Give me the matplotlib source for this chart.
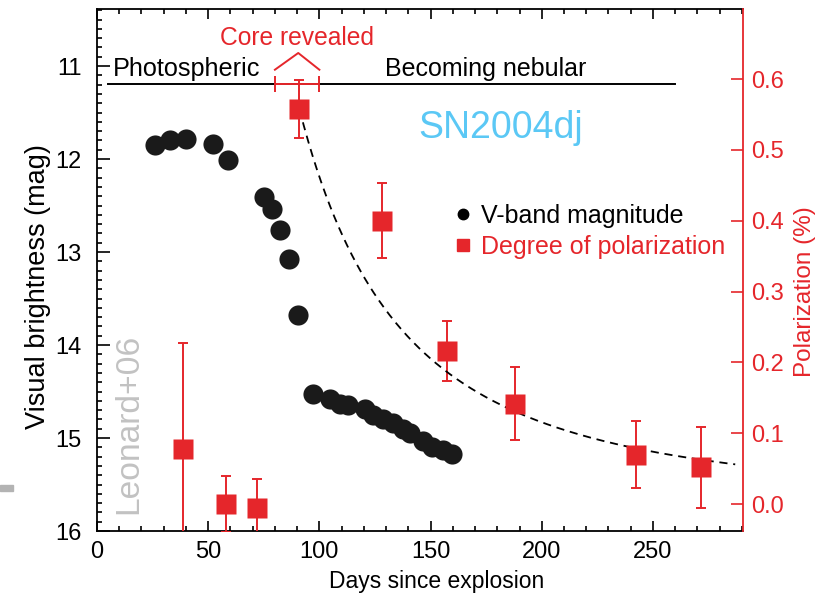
import numpy as np
import matplotlib
matplotlib.use("Agg")
import matplotlib.pyplot as plt
from matplotlib.lines import Line2D
from matplotlib.patches import Rectangle
from matplotlib.ticker import MultipleLocator

plt.rcParams['font.family'] = ['Liberation Sans', 'DejaVu Sans']

# ---------------- data ----------------
v_days = [26, 33, 40, 52, 59, 75.2, 78.8, 82.3, 86.3, 90.4, 97.0, 104.8, 109.3,
          113.0, 120.5, 124.3, 128.8, 133.3, 137.8, 140.7, 146.7, 150.5, 155.7, 159.7]
v_mag = [11.85, 11.80, 11.79, 11.84, 12.01, 12.41, 12.54, 12.76, 13.07, 13.68,
         14.53, 14.58, 14.63, 14.65, 14.69, 14.75, 14.80, 14.84, 14.90, 14.95,
         15.03, 15.10, 15.13, 15.17]

pol_days = [38.8, 57.9, 71.8, 91.0, 128.1, 157.2, 188.0, 242.4, 271.6]
pol_val = [0.078, 0.000, -0.006, 0.558, 0.400, 0.216, 0.142, 0.070, 0.052]
pol_err = [0.150, 0.040, 0.041, 0.041, 0.053, 0.042, 0.052, 0.047, 0.057]

# t^-2 model curve (dashed)
model_ref_day = 91.0
model_ref_pol = 0.558
model_end_day = 287.0

# phase bar and "core revealed" marker
phase_line_days = [5, 260]
phase_line_mag = 11.19
core_day = 90.0
core_halfwidth = 10.0
bracket_days = [80, 90.5, 100]
bracket_mag = [11.04, 10.86, 11.04]

x_ticks = [0, 50, 100, 150, 200, 250]
mag_ticks = [11, 12, 13, 14, 15, 16]
pol_ticks = [0.0, 0.1, 0.2, 0.3, 0.4, 0.5, 0.6]

RED = '#e5262b'
BLUE = '#5bc8f5'
GRAY = '#c2c2c2'

# ---------------- figure ----------------
fig = plt.figure(figsize=(8.29, 5.97), dpi=100)
ax = fig.add_axes([0.11701, 0.11055, 0.77925, 0.87437])
ax2 = ax.twinx()

ax.set_xlim(0, 290.5)
ax.set_ylim(16, 10.387)
ax2.set_ylim(-0.038, 0.699)

# V-band points
ax.plot(v_days, v_mag, 'o', color='#1a1a1a', ms=14.5, mec='none', zorder=3)

# phase line and core-revealed marker
ax.plot(phase_line_days, [phase_line_mag] * 2, color='black', lw=1.4, zorder=2)
ax.errorbar([core_day], [phase_line_mag], xerr=[core_halfwidth], fmt='none',
            ecolor=RED, elinewidth=1.4, capsize=6, capthick=1.4, zorder=3)
ax.plot(bracket_days, bracket_mag, color=RED, lw=1.4, zorder=3)

# Polarization points
ax2.errorbar(pol_days, pol_val, yerr=pol_err, fmt='none', ecolor=RED,
             elinewidth=1.4, capsize=3.3, capthick=1.4, zorder=2)
ax2.plot(pol_days, pol_val, 's', color=RED, ms=14.5, mec='none', zorder=4)

# model curve
t = np.linspace(model_ref_day, model_end_day, 300)
ax2.plot(t, model_ref_pol * (model_ref_day / t) ** 2, color='black', lw=1.3,
         ls=(0, (4.5, 3.2)), zorder=3)

# texts
ax.text(7.3, 11.11, 'Photospheric', fontsize=18.2, ha='left', va='baseline')
ax.text(175, 11.11, 'Becoming nebular', fontsize=18, ha='center', va='baseline')
ax.text(89.8, 10.774, 'Core revealed', fontsize=17.7, ha='center', va='baseline', color=RED)
ax.text(181.4, 11.777, 'SN2004dj', fontsize=27, ha='center', va='baseline', color=BLUE)
ax.text(14.3, 15.82, 'Leonard+06', fontsize=24.2, rotation=90, ha='center',
        va='bottom', color=GRAY)

# legend
handles = [Line2D([], [], marker='o', color='black', ls='none', ms=7.5),
           Line2D([], [], marker='s', color=RED, ls='none', ms=8.5)]
leg = ax.legend(handles, ['V-band magnitude', 'Degree of polarization'],
                loc='upper left', bbox_to_anchor=(0.5526, 0.627), frameon=False,
                borderpad=0, borderaxespad=0, handlelength=0.75, handletextpad=0.35,
                labelspacing=0.3, fontsize=18, labelcolor=['black', RED])

# axes styling
for s in ['top', 'bottom', 'left']:
    ax.spines[s].set_linewidth(1.3)
ax.spines['right'].set_visible(False)
for s in ['top', 'bottom', 'left']:
    ax2.spines[s].set_visible(False)
ax2.spines['right'].set_color(RED)
ax2.spines['right'].set_linewidth(1.3)

ax.set_xticks(x_ticks)
ax.xaxis.set_minor_locator(MultipleLocator(10))
ax.set_yticks(mag_ticks)
ax.yaxis.set_minor_locator(MultipleLocator(0.1))
ax2.set_yticks(pol_ticks)
ax2.set_yticklabels([f'{v:.1f}' for v in pol_ticks])

ax.tick_params(axis='x', which='both', direction='in', top=True, bottom=True,
               width=1.2, labelsize=17, pad=7.5)
ax.tick_params(axis='x', which='major', length=7)
ax.tick_params(axis='x', which='minor', length=3.4)
ax.tick_params(axis='y', which='both', direction='in', left=True, right=False,
               width=1.2, labelsize=17, pad=11)
ax.tick_params(axis='y', which='major', length=9)
ax.tick_params(axis='y', which='minor', length=3.6)
ax2.tick_params(axis='y', which='major', direction='in', length=9, width=1.2,
                color=RED, labelcolor=RED, labelsize=17, pad=6)

ax.set_xlabel('Days since explosion', fontsize=16.5)
ax.xaxis.set_label_coords(0.526, -0.096)
ax.xaxis.label.set_va('center')
ax.set_ylabel('Visual brightness (mag)', fontsize=19.5, va='center', ha='center')
ax.yaxis.set_label_coords(-0.0913, 0.468)
ax2.set_ylabel('Polarization (%)', fontsize=17.5, color=RED, rotation=90,
               va='center', ha='center')
ax2.yaxis.set_label_coords(1.096, 0.459)

# small gray mark at the left edge of the page
fig.patches.append(Rectangle((0, (597 - 491) / 597), 12.7 / 829, 6 / 597,
                             transform=fig.transFigure, color='#b3b3b3'))

fig.savefig('out.png', dpi=100)
